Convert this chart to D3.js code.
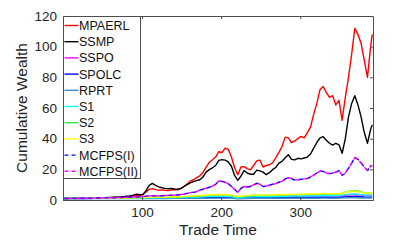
<!DOCTYPE html>
<html>
<head>
<meta charset="utf-8">
<script src="https://cdnjs.cloudflare.com/ajax/libs/d3/7.8.5/d3.min.js"></script>
<style>
  body { margin: 0; background: #fff; }
  text { font-family: "Liberation Sans", Arial, Helvetica, sans-serif; }
</style>
</head>
<body>
<div id="chart"></div>
<script>
var svgWidth = 399, svgHeight = 243;
var margin = { top: 16, right: 26, bottom: 43, left: 63 };
var width = svgWidth - margin.left - margin.right;
var height = svgHeight - margin.top - margin.bottom;

// trade time index (every 4th period for the main curves, every 10th for the flat ones)
var tradeTime = d3.range(1, 390, 4).concat([391]);
var tradeTimeSmall = d3.range(1, 392, 10);

var seriesNames = ["MPAERL", "SSMP", "SSPO", "SPOLC", "RPRT", "S1", "S2", "S3", "MCFPS(I)", "MCFPS(II)"];
var xTicks = [100, 200, 300];
var yTicks = [0, 20, 40, 60, 80, 100, 120];

var mpaerl = [
  1.0, 1.0, 1.05, 1.1, 1.1, 1.15, 1.2, 1.2, 1.25, 1.3,
  1.35, 1.4, 1.45, 1.5, 1.55, 1.6, 1.7, 1.8, 1.9, 2.1,
  2.3, 2.5, 2.8, 2.9, 3.1, 3.6, 5.2, 6.9, 7.4, 6.8,
  6.4, 6.6, 6.3, 6.1, 6.5, 6.8, 6.6, 7.4, 8.8, 10.5,
  12.4, 13.2, 14.6, 15.8, 18.0, 21.4, 24.5, 26.2, 28.0, 31.5,
  31.0, 33.8, 33.0, 28.0, 21.0, 16.5, 21.5, 21.8, 20.5, 19.6,
  22.5, 25.5, 26.0, 21.5, 22.5, 23.0, 24.2, 27.5, 31.0, 35.0,
  41.0, 40.5, 37.5, 38.5, 40.0, 41.5, 40.5, 44.0, 47.5, 56.0,
  63.0, 72.0, 74.0, 70.0, 67.0, 68.0, 62.0, 65.0, 52.0, 67.0,
  80.0, 95.0, 112.0, 108.0, 102.0, 91.0, 80.0, 100.0, 108.0
];
var ssmp = [
  1.0, 1.0, 1.05, 1.1, 1.1, 1.15, 1.2, 1.2, 1.25, 1.3,
  1.35, 1.4, 1.45, 1.5, 1.6, 1.7, 1.8, 1.9, 2.0, 2.2,
  2.4, 2.7, 3.2, 3.8, 3.4, 3.6, 6.0, 9.5, 10.8, 9.6,
  8.6, 8.0, 7.6, 7.3, 7.6, 7.2, 7.0, 7.6, 8.8, 10.0,
  11.2, 12.0, 12.6, 13.2, 15.0, 18.2, 19.8, 21.0, 22.5, 25.8,
  26.3, 26.0, 24.8, 22.0, 16.0, 12.8, 15.5, 19.2, 17.6, 16.8,
  16.8, 19.5, 19.0, 18.2, 16.5, 17.8, 19.8, 21.2, 24.0, 25.2,
  27.5, 29.5, 26.5, 26.2, 27.2, 26.8, 27.4, 28.0, 30.0, 33.8,
  37.5, 40.5, 41.3, 39.0, 37.0, 35.8, 37.0, 36.0, 30.5, 40.0,
  54.0, 63.0, 68.0, 62.0, 54.0, 44.0, 37.0, 46.0, 49.0
];
var mcfps1 = [
  1.0, 1.0, 1.02, 1.05, 1.07, 1.1, 1.12, 1.15, 1.18, 1.2,
  1.25, 1.3, 1.33, 1.37, 1.4, 1.45, 1.5, 1.55, 1.6, 1.68,
  1.75, 1.85, 1.95, 2.0, 2.05, 2.2, 2.5, 2.7, 2.8, 2.7,
  2.7, 2.8, 2.9, 3.0, 3.1, 3.2, 3.3, 3.6, 3.8, 4.3,
  4.8, 5.0, 5.4, 6.4, 7.0, 7.6, 8.3, 9.0, 10.2, 12.4,
  12.2, 11.5, 10.6, 8.9, 6.8, 5.0, 7.6, 8.9, 8.5, 8.8,
  9.8, 10.9, 10.2, 8.8, 9.0, 9.6, 10.3, 10.6, 11.6, 12.2,
  13.8, 14.6, 13.9, 13.0, 13.2, 13.5, 13.7, 14.0, 15.0, 16.3,
  17.6, 18.9, 18.6, 17.6, 17.2, 17.5, 18.2, 19.1, 16.0, 17.5,
  20.7, 24.0, 27.8, 26.5, 24.2, 21.5, 19.2, 22.2, 22.4
];
var mcfps2 = [
  1.0, 1.0, 1.02, 1.04, 1.07, 1.1, 1.13, 1.15, 1.18, 1.21,
  1.25, 1.29, 1.33, 1.37, 1.41, 1.45, 1.5, 1.56, 1.61, 1.68,
  1.76, 1.85, 1.94, 2.0, 2.06, 2.2, 2.45, 2.7, 2.8, 2.75,
  2.7, 2.8, 2.9, 3.0, 3.1, 3.2, 3.35, 3.6, 3.9, 4.3,
  4.8, 5.1, 5.5, 6.4, 7.0, 7.7, 8.4, 9.1, 10.3, 12.5,
  12.3, 11.6, 10.5, 8.8, 6.9, 5.1, 7.5, 8.8, 8.6, 8.9,
  9.9, 10.8, 10.3, 8.9, 9.1, 9.6, 10.2, 10.7, 11.5, 12.3,
  13.7, 14.5, 14.0, 13.1, 13.2, 13.4, 13.8, 14.1, 15.1, 16.2,
  17.5, 18.8, 18.7, 17.5, 17.3, 17.6, 18.1, 19.0, 16.2, 17.6,
  20.6, 24.1, 27.6, 26.6, 24.0, 21.6, 19.3, 22.0, 22.5
];

// flat benchmarks, every 10th period
var sspo = [1.0, 1.0, 1.02, 1.05, 1.08, 1.1, 1.12, 1.15, 1.2, 1.25,
  1.3, 1.4, 1.45, 1.5, 1.55, 1.6, 1.75, 1.9, 2.05, 2.2,
  2.3, 2.1, 1.4, 1.8, 2.0, 2.0, 2.0, 2.1, 2.2, 2.3,
  2.3, 2.4, 2.5, 2.6, 2.5, 2.6, 3.4, 3.6, 3.0, 2.9];
var spolc = [1.0, 1.0, 1.0, 1.02, 1.03, 1.05, 1.06, 1.08, 1.1, 1.12,
  1.15, 1.2, 1.22, 1.25, 1.28, 1.3, 1.38, 1.45, 1.55, 1.65,
  1.7, 1.6, 1.1, 1.35, 1.45, 1.5, 1.45, 1.5, 1.55, 1.6,
  1.6, 1.65, 1.7, 1.8, 1.7, 1.8, 2.2, 2.3, 2.0, 1.9];
var rprt = [1.0, 0.98, 0.97, 0.97, 0.96, 0.96, 0.95, 0.96, 0.97, 0.98,
  0.99, 1.0, 1.0, 1.02, 1.03, 1.05, 1.08, 1.1, 1.15, 1.2,
  1.25, 1.2, 0.85, 1.0, 1.05, 1.08, 1.05, 1.08, 1.1, 1.12,
  1.12, 1.15, 1.18, 1.22, 1.18, 1.22, 1.45, 1.5, 1.35, 1.3];
var s1 = [1.0, 1.0, 1.03, 1.06, 1.1, 1.12, 1.15, 1.2, 1.25, 1.3,
  1.35, 1.45, 1.5, 1.55, 1.6, 1.7, 1.85, 2.0, 2.2, 2.4,
  2.5, 2.3, 1.5, 1.9, 2.1, 2.2, 2.1, 2.2, 2.4, 2.5,
  2.5, 2.6, 2.7, 2.9, 2.7, 2.9, 3.8, 4.0, 3.3, 3.2];
var s2 = [1.0, 1.0, 1.05, 1.1, 1.15, 1.2, 1.25, 1.3, 1.38, 1.45,
  1.55, 1.7, 1.8, 1.9, 2.0, 2.1, 2.35, 2.6, 2.9, 3.2,
  3.4, 3.0, 1.9, 2.6, 2.9, 3.0, 2.9, 3.1, 3.3, 3.4,
  3.5, 3.6, 3.8, 4.0, 3.8, 4.1, 5.8, 6.0, 4.6, 4.3];
var s3 = [1.0, 1.0, 1.05, 1.1, 1.15, 1.2, 1.25, 1.3, 1.4, 1.5,
  1.6, 1.8, 1.9, 2.0, 2.1, 2.2, 2.5, 2.8, 3.1, 3.4,
  3.6, 3.3, 2.2, 2.9, 3.2, 3.3, 3.2, 3.4, 3.6, 3.7,
  3.8, 3.9, 4.1, 4.3, 4.0, 4.2, 5.4, 5.6, 4.5, 4.6];

var colors = ["#ff0000", "#000000", "#ff00ff", "#0000ff", "#3a8fcb", "#00ffff", "#33ee33", "#ffff00", "#0000ff", "#ff00ff"];
var dashes = [null, null, null, null, null, null, null, null, "5,3", "5,3"];
var dashOffset = [0, 0, 0, 0, 0, 0, 0, 0, 0, 4];
var values = [mpaerl, ssmp, sspo, spolc, rprt, s1, s2, s3, mcfps1, mcfps2];
var times = [tradeTime, tradeTime, tradeTimeSmall, tradeTimeSmall, tradeTimeSmall,
  tradeTimeSmall, tradeTimeSmall, tradeTimeSmall, tradeTime, tradeTime];

var svg = d3.select('#chart').append("svg")
    .attr("width", svgWidth)
    .attr("height", svgHeight)
    .style("background", "#fff")
    .append("g")
    .attr("transform", "translate(" + margin.left + "," + margin.top + ")");

var xScale = d3.scaleLinear().domain([0, 392]).range([0, width]);
var yScale = d3.scaleLinear().domain([0, 120]).range([height, 0]);

// curves
var line = d3.line()
    .x(function(d) { return xScale(d[0]); })
    .y(function(d) { return yScale(d[1]); });

svg.selectAll(".series")
    .data(seriesNames)
    .enter().append("path")
    .attr("class", "series")
    .attr("d", function(d, i) {
        return line(values[i].map(function(v, j) { return [times[i][j], v]; }));
    })
    .attr("fill", "none")
    .attr("stroke", function(d, i) { return colors[i]; })
    .attr("stroke-width", 1.4)
    .attr("stroke-linejoin", "round")
    .attr("stroke-dasharray", function(d, i) { return dashes[i]; })
    .attr("stroke-dashoffset", function(d, i) { return dashOffset[i]; });

// box axes, ticks pointing inward
var axisColor = "#4d4d4d";
var textColor = "#262626";

var xAxis = svg.append("g")
    .attr("transform", "translate(0," + height + ")")
    .call(d3.axisBottom(xScale).tickValues(xTicks).tickSizeInner(-3).tickSizeOuter(0).tickPadding(7));
var xAxisTop = svg.append("g")
    .call(d3.axisTop(xScale).tickValues(xTicks).tickSizeInner(-3).tickSizeOuter(0).tickFormat(""));
var yAxis = svg.append("g")
    .call(d3.axisLeft(yScale).tickValues(yTicks).tickSizeInner(-3).tickSizeOuter(0).tickPadding(6));
var yAxisRight = svg.append("g")
    .attr("transform", "translate(" + width + ",0)")
    .call(d3.axisRight(yScale).tickValues(yTicks).tickSizeInner(-3).tickSizeOuter(0).tickFormat(""));

svg.selectAll('.domain').style('stroke', axisColor).style('stroke-width', '1px');
svg.selectAll('.tick line').style('stroke', axisColor);
svg.selectAll('.tick text')
    .style('fill', textColor)
    .style('font-size', '13.5px')
    .style('font-family', '"Liberation Sans", Arial, sans-serif');

// axis titles
svg.append("text")
    .attr("x", width / 2)
    .attr("y", height + 35)
    .attr("text-anchor", "middle")
    .style("font-size", "15.5px")
    .attr("fill", textColor)
    .text("Trade Time");

svg.append("text")
    .attr("transform", "rotate(-90)")
    .attr("x", -height / 2)
    .attr("y", -36)
    .attr("text-anchor", "middle")
    .style("font-size", "15.5px")
    .attr("fill", textColor)
    .text("Cumulative Wealth");

// legend in the upper left corner
var legend = svg.append("g").attr("transform", "translate(0.5,0.5)");
legend.append("rect")
    .attr("width", 77)
    .attr("height", 162)
    .attr("fill", "#fff")
    .attr("stroke", axisColor);

var item = legend.selectAll(".item")
    .data(seriesNames)
    .enter().append("g")
    .attr("class", "item")
    .attr("transform", function(d, i) { return "translate(0," + (9 + i * 16.2) + ")"; });

item.append("line")
    .attr("x1", 1).attr("x2", 15)
    .attr("stroke", function(d, i) { return colors[i]; })
    .attr("stroke-width", 1.4)
    .attr("stroke-dasharray", function(d, i) { return dashes[i] ? "4,3" : null; });

item.append("text")
    .attr("x", 15.5)
    .attr("dy", "0.36em")
    .style("font-size", "12.5px")
    .attr("fill", "#111")
    .text(function(d) { return d; });
</script>
</body>
</html>
